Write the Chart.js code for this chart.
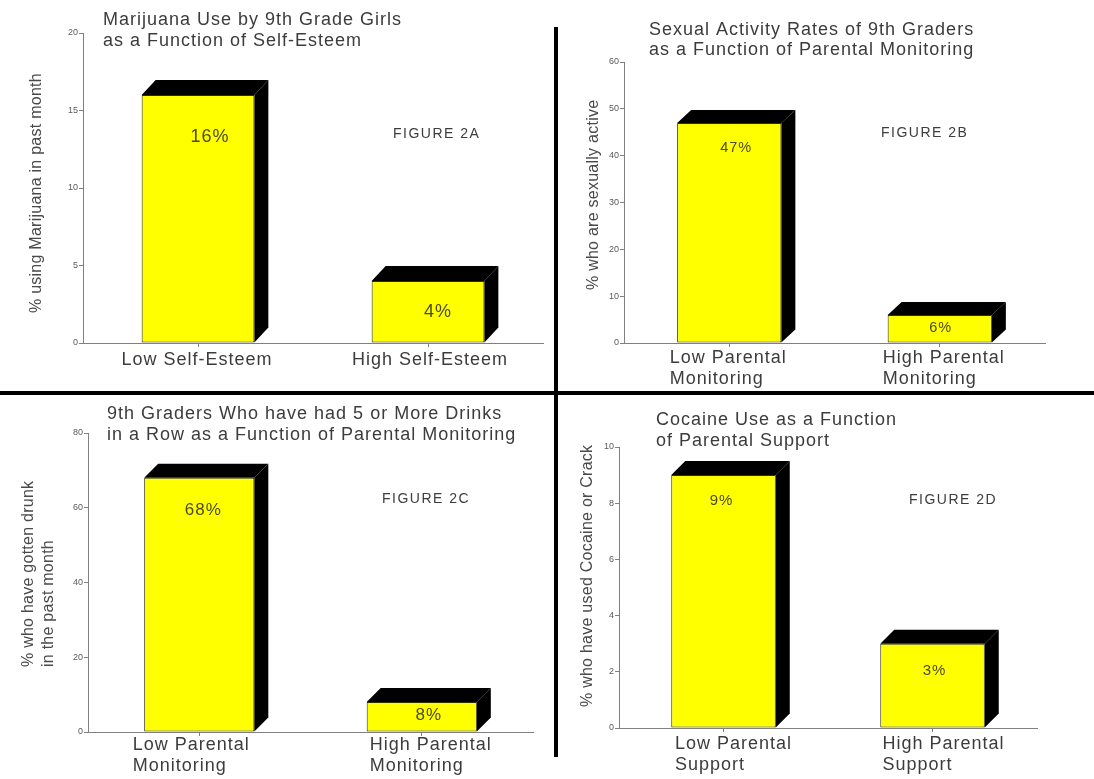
<!DOCTYPE html>
<html>
<head>
<meta charset="utf-8">
<title>Figure 2A–2D</title>
<script src="https://cdn.jsdelivr.net/npm/chart.js@4.4.1/dist/chart.umd.min.js"></script>
<style>
  html, body { margin: 0; padding: 0; background: #fff; }
  #page { position: relative; width: 1094px; height: 779px; overflow: hidden; background: #fff; }
  #page canvas { position: absolute; left: 0; top: 0; }
  .rule { position: absolute; background: #000; }
</style>
</head>
<body>
<div id="page">
  <canvas id="fig2a" width="1094" height="779"></canvas>
  <canvas id="fig2b" width="1094" height="779"></canvas>
  <canvas id="fig2c" width="1094" height="779"></canvas>
  <canvas id="fig2d" width="1094" height="779"></canvas>
  <div class="rule" style="left:0;top:391px;width:1094px;height:4px"></div>
  <div class="rule" style="left:554px;top:27px;width:4px;height:730px"></div>
</div>
<script>
// ---- Figure 2A: marijuana use by self-esteem ----
const fig2aCategories = [['Low Self-Esteem'], ['High Self-Esteem']];
const fig2aValues = [16, 4];
const fig2aTicks = [0, 5, 10, 15, 20];
const fig2aTitle = ['Marijuana Use by 9th Grade Girls', 'as a Function of Self-Esteem'];
const fig2aAxisTitle = ['% using Marijuana in past month'];
const fig2aTag = 'FIGURE 2A';

// ---- Figure 2B: sexual activity by parental monitoring ----
const fig2bCategories = [['Low Parental', 'Monitoring'], ['High Parental', 'Monitoring']];
const fig2bValues = [47, 6];
const fig2bTicks = [0, 10, 20, 30, 40, 50, 60];
const fig2bTitle = ['Sexual Activity Rates of 9th Graders', 'as a Function of Parental Monitoring'];
const fig2bAxisTitle = ['% who are sexually active'];
const fig2bTag = 'FIGURE 2B';

// ---- Figure 2C: binge drinking by parental monitoring ----
const fig2cCategories = [['Low Parental', 'Monitoring'], ['High Parental', 'Monitoring']];
const fig2cValues = [68, 8];
const fig2cTicks = [0, 20, 40, 60, 80];
const fig2cTitle = ['9th Graders Who have had 5 or More Drinks', 'in a Row as a Function of Parental Monitoring'];
const fig2cAxisTitle = ['% who have gotten drunk', 'in the past month'];
const fig2cTag = 'FIGURE 2C';

// ---- Figure 2D: cocaine use by parental support ----
const fig2dCategories = [['Low Parental', 'Support'], ['High Parental', 'Support']];
const fig2dValues = [9, 3];
const fig2dTicks = [0, 2, 4, 6, 8, 10];
const fig2dTitle = ['Cocaine Use as a Function', 'of Parental Support'];
const fig2dAxisTitle = ['% who have used Cocaine or Crack'];
const fig2dTag = 'FIGURE 2D';

const FONT = '"Liberation Sans", Arial, Helvetica, sans-serif';
const AXIS_COLOR = '#808080';
const TEXT_COLOR = '#3c3c3c';
const BAR_FILL = '#ffff00';
const Y_AXIS_W = 40;
const X_AXIS_H = 30;

function drawText(ctx, text, x, y, opts) {
  ctx.save();
  ctx.font = opts.font;
  ctx.fillStyle = opts.color || TEXT_COLOR;
  ctx.textAlign = opts.align || 'left';
  ctx.textBaseline = opts.baseline || 'alphabetic';
  if ('letterSpacing' in ctx) ctx.letterSpacing = (opts.spacing || 0) + 'px';
  ctx.fillText(text, x, y);
  ctx.restore();
}

// Draws the extruded faces, value labels, titles and category labels.
function figureDecor(spec) {
  return {
    id: 'figureDecor',
    afterDatasetsDraw(chart) {
      const ctx = chart.ctx;
      const bars = chart.getDatasetMeta(0).data;
      const { dx, dy } = spec.depth;
      bars.forEach((bar, i) => {
        const { x, y, base, width } = bar.getProps(['x', 'y', 'base', 'width'], true);
        const l = x - width / 2, r = x + width / 2;
        ctx.save();
        ctx.fillStyle = '#000';
        ctx.beginPath();
        ctx.moveTo(l, y); ctx.lineTo(l + dx, y + dy); ctx.lineTo(r + dx, y + dy); ctx.lineTo(r, y);
        ctx.closePath(); ctx.fill();
        ctx.beginPath();
        ctx.moveTo(r, y); ctx.lineTo(r + dx, y + dy); ctx.lineTo(r + dx, base + dy); ctx.lineTo(r, base);
        ctx.closePath(); ctx.fill();
        ctx.restore();
        const v = chart.data.datasets[0].data[i];
        const off = spec.valueLabel.offsets[i];
        drawText(ctx, v + '%', x + off[0], y + off[1], {
          font: spec.valueLabel.size + 'px ' + FONT, color: '#4b4b1e', align: 'center', spacing: 1
        });
      });
    },
    afterDraw(chart) {
      const ctx = chart.ctx;
      // title, left aligned over the plot
      spec.title.lines.forEach((line, k) => {
        drawText(ctx, line, spec.title.x, spec.title.baselines[k], { font: '18px ' + FONT, spacing: 1 });
      });
      // figure tag
      drawText(ctx, spec.tag.text, spec.tag.x, spec.tag.y, { font: '14px ' + FONT, spacing: 1.5 });
      // category labels: block centred under each bar, lines left aligned
      const xs = chart.scales.x;
      const base = chart.scales.y.getPixelForValue(0);
      spec.categories.forEach((lines, i) => {
        ctx.save();
        ctx.font = '18px ' + FONT;
        if ('letterSpacing' in ctx) ctx.letterSpacing = '1px';
        const w = Math.max(...lines.map(t => ctx.measureText(t).width));
        ctx.restore();
        const cx = xs.getPixelForValue(i) + spec.catLabel.dx[i];
        lines.forEach((t, k) => {
          drawText(ctx, t, cx - w / 2, base + spec.catLabel.first + k * 21, { font: '18px ' + FONT, spacing: 1 });
        });
      });
      // rotated axis title
      ctx.save();
      spec.axisTitle.lines.forEach((t, k) => {
        ctx.save();
        ctx.translate(spec.axisTitle.xs[k], spec.axisTitle.startY);
        ctx.rotate(-Math.PI / 2);
        drawText(ctx, t, 0, 0, { font: '16px ' + FONT, color: '#4a4a4a', baseline: 'middle', spacing: 0.25 });
        ctx.restore();
      });
      ctx.restore();
    }
  };
}

function makeFigure(id, spec) {
  const area = spec.area;
  return new Chart(document.getElementById(id), {
    type: 'bar',
    data: {
      labels: spec.categories.map(c => c.join(' ')),
      datasets: [{
        data: spec.values,
        backgroundColor: BAR_FILL,
        borderColor: '#2e2e00',
        borderWidth: 1,
        borderSkipped: false,
        barPercentage: spec.barPct,
        categoryPercentage: 1
      }]
    },
    options: {
      responsive: false,
      animation: false,
      events: [],
      layout: {
        padding: {
          left: area.left - Y_AXIS_W,
          right: 1094 - area.right,
          top: area.top,
          bottom: 779 - area.bottom - X_AXIS_H
        }
      },
      plugins: { legend: { display: false }, tooltip: { enabled: false }, title: { display: false } },
      scales: {
        x: {
          grid: { offset: false, drawOnChartArea: false, drawTicks: true, tickLength: 4, color: AXIS_COLOR },
          border: { display: true, color: AXIS_COLOR, width: 1 },
          ticks: { display: false },
          afterFit(s) { s.height = X_AXIS_H; s.paddingLeft = 0; s.paddingRight = 0; }
        },
        y: {
          min: spec.ticks[0],
          max: spec.ticks[spec.ticks.length - 1],
          afterBuildTicks(s) { s.ticks = spec.ticks.map(v => ({ value: v })); },
          grid: { drawOnChartArea: false, drawTicks: true, tickLength: 4, color: AXIS_COLOR },
          border: { display: true, color: AXIS_COLOR, width: 1 },
          ticks: { font: { family: FONT, size: 9 }, color: '#5a5a5a', padding: 1 },
          afterFit(s) { s.width = Y_AXIS_W; s.paddingTop = 0; s.paddingBottom = 0; }
        }
      }
    },
    plugins: [figureDecor(spec)]
  });
}

makeFigure('fig2a', {
  categories: fig2aCategories, values: fig2aValues, ticks: fig2aTicks,
  area: { left: 83, right: 543, top: 33, bottom: 343 },
  barPct: 0.49, depth: { dx: 14, dy: -15 },
  title: { lines: fig2aTitle, x: 103, baselines: [25, 46] },
  tag: { text: fig2aTag, x: 393, y: 138 },
  valueLabel: { size: 18, offsets: [[12, 47], [10, 36]] },
  catLabel: { first: 22, dx: [-1, 2] },
  axisTitle: { lines: fig2aAxisTitle, xs: [37], startY: 313 }
});

makeFigure('fig2b', {
  categories: fig2bCategories, values: fig2bValues, ticks: fig2bTicks,
  area: { left: 624, right: 1045, top: 62, bottom: 343 },
  barPct: 0.495, depth: { dx: 14, dy: -13 },
  title: { lines: fig2bTitle, x: 649, baselines: [35, 55] },
  tag: { text: fig2bTag, x: 881, y: 137 },
  valueLabel: { size: 14.5, offsets: [[7, 29], [1, 17]] },
  catLabel: { first: 20, dx: [-1, 4] },
  axisTitle: { lines: fig2bAxisTitle, xs: [594], startY: 290 }
});

makeFigure('fig2c', {
  categories: fig2cCategories, values: fig2cValues, ticks: fig2cTicks,
  area: { left: 88, right: 533, top: 433, bottom: 732 },
  barPct: 0.495, depth: { dx: 14, dy: -14 },
  title: { lines: fig2cTitle, x: 107, baselines: [419, 440] },
  tag: { text: fig2cTag, x: 382, y: 503 },
  valueLabel: { size: 17, offsets: [[4, 37], [7, 18]] },
  catLabel: { first: 18, dx: [-8, 9] },
  axisTitle: { lines: fig2cAxisTitle, xs: [29, 49], startY: 667 }
});

makeFigure('fig2d', {
  categories: fig2dCategories, values: fig2dValues, ticks: fig2dTicks,
  area: { left: 619, right: 1037, top: 447, bottom: 728 },
  barPct: 0.5, depth: { dx: 14, dy: -14 },
  title: { lines: fig2dTitle, x: 656, baselines: [425, 446] },
  tag: { text: fig2dTag, x: 909, y: 504 },
  valueLabel: { size: 15, offsets: [[-2, 30], [2, 31]] },
  catLabel: { first: 21, dx: [10, 11] },
  axisTitle: { lines: fig2dAxisTitle, xs: [588], startY: 707 }
});
</script>
</body>
</html>
